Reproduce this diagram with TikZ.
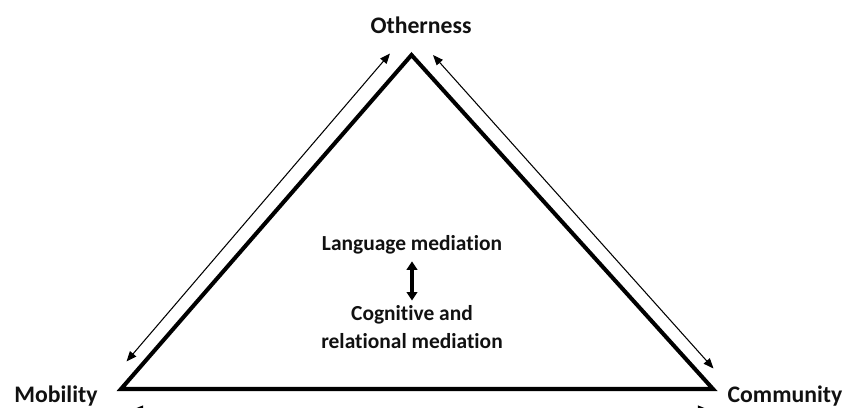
\documentclass[tikz,border=0pt]{standalone}
\usepackage{fontspec}
\setmainfont{Carlito}[Ligatures={NoCommon}]
\usepackage{xcolor}
\definecolor{labelInk}{HTML}{111111}
\usepackage{tikz}
\usetikzlibrary{arrows.meta, positioning}

\begin{document}
\begin{tikzpicture}[
    x=0.02cm, y=-0.02cm,
    every node/.style={outer sep=0pt, inner sep=0pt},
    cornerLbl/.style={font=\fontsize{13.5}{15}\selectfont\bfseries, text=labelInk},
    midLbl/.style={font=\fontsize{12.2}{15.5}\selectfont\bfseries, text=labelInk, align=center},
    triSide/.style={draw=black, line width=2.3pt, line join=miter},
    linkArrow/.style={draw=black, line width=0.6pt, {Triangle[length=5.8pt, width=4.6pt]}-{Triangle[length=5.8pt, width=4.6pt]}},
    mediArrow/.style={draw=black, line width=1.9pt, {Triangle[length=4.8pt, width=6pt]}-{Triangle[length=4.8pt, width=6pt]}}
]
    % Page frame
    \useasboundingbox (0,0) rectangle (846,407);

    % Triangle corners
    \coordinate (apex) at (411.5,55);
    \coordinate (baseL) at (121,389);
    \coordinate (baseR) at (713,389);

    % Corner labels
    \node (other) [cornerLbl] at (421,25) {Otherness};
    \node (mobil) [cornerLbl] at (56,396) {Mobility};
    \node (commu) [cornerLbl] at (785,396) {Community};

    % Centre labels
    \node (lang) [midLbl] at (412,245) {Language mediation};
    \node (cogn) [midLbl] at (412,327) {Cognitive and\\relational mediation};

    % Free ends of the side arrows
    \coordinate (leftA) at (126.5,361.5);
    \coordinate (leftB) at (390,53.5);
    \coordinate (rightA) at (433,55);
    \coordinate (rightB) at (713.5,368.5);
    \coordinate (baseA) at (133,409.5);
    \coordinate (baseB) at (708,409.5);

    % Draw the triangle
    \draw [triSide] (apex) -- (baseR) -- (baseL) -- cycle;

    % Draw the side arrows
    \draw [linkArrow] (leftA) -- (leftB);
    \draw [linkArrow] (rightA) -- (rightB);
    \draw [linkArrow] (baseA) -- (baseB);

    % Link the two mediations
    \draw [mediArrow] ([yshift=-4pt]lang.south) -- ([yshift=3pt]cogn.north);
\end{tikzpicture}
\end{document}
